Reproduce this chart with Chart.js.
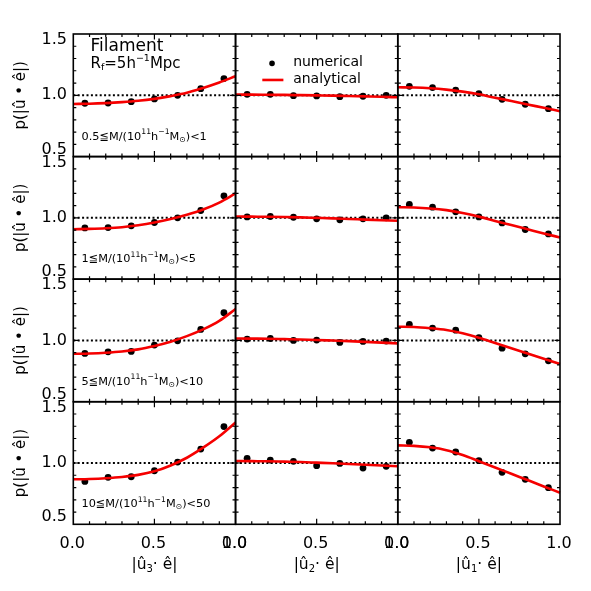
<!DOCTYPE html>
<html><head><meta charset="utf-8">
<script src="https://cdn.jsdelivr.net/npm/chart.js@4/dist/chart.umd.min.js"></script>
<style>html,body{margin:0;padding:0;background:#fff;}#wrap{position:relative;width:591px;height:591px;}canvas{display:block}</style>
</head><body><div id="wrap"><canvas id="c" width="591" height="591"></canvas></div>
<script>
// ---- data ----
const binX = [0.0714, 0.2143, 0.3571, 0.5, 0.6429, 0.7857, 0.9286];
const curveX = [0, 0.1, 0.2, 0.3, 0.4, 0.5, 0.6, 0.7, 0.8, 0.9, 1.0];
const yTickVals = [0.5, 1.0, 1.5];
const yTickText = ['0.5', '1.0', '1.5'];
const xTickVals = [0.0, 0.5, 1.0];
const xTickText = ['0.0', '0.5', '1.0'];
const massLow = ['0.5', '1', '5', '10'];
const massHigh = ['1', '5', '10', '50'];
const colSub = ['3', '2', '1'];

// left column: |u3 . e|
const numU3 = [
  [0.935, 0.937, 0.948, 0.970, 1.000, 1.054, 1.136],
  [0.918, 0.921, 0.935, 0.962, 1.000, 1.060, 1.180],
  [0.894, 0.907, 0.910, 0.962, 0.997, 1.090, 1.226],
  [0.850, 0.883, 0.888, 0.937, 1.008, 1.114, 1.297]
];
const fitU3 = [
  [0.929, 0.931, 0.936, 0.944, 0.955, 0.971, 0.993, 1.020, 1.060, 1.105, 1.155],
  [0.907, 0.910, 0.915, 0.924, 0.940, 0.962, 0.990, 1.025, 1.068, 1.125, 1.199],
  [0.891, 0.894, 0.900, 0.910, 0.927, 0.955, 0.990, 1.035, 1.090, 1.160, 1.256],
  [0.867, 0.870, 0.876, 0.886, 0.903, 0.932, 0.980, 1.043, 1.125, 1.218, 1.330]
];
// middle column: |u2 . e|
const numU2 = [
  [1.008, 1.008, 0.997, 0.995, 0.989, 0.992, 1.000],
  [1.008, 1.011, 1.005, 0.992, 0.984, 0.992, 1.000],
  [1.011, 1.016, 1.000, 1.003, 0.984, 0.992, 0.995],
  [1.038, 1.024, 1.014, 0.978, 0.997, 0.959, 0.973]
];
const fitU2 = [
  [1.005, 1.005, 1.004, 1.003, 1.001, 0.999, 0.997, 0.994, 0.991, 0.988, 0.984],
  [1.011, 1.010, 1.009, 1.007, 1.004, 1.000, 0.996, 0.991, 0.986, 0.981, 0.976],
  [1.016, 1.015, 1.014, 1.011, 1.008, 1.004, 0.999, 0.994, 0.988, 0.982, 0.976],
  [1.016, 1.015, 1.014, 1.011, 1.008, 1.003, 0.998, 0.992, 0.986, 0.980, 0.973]
];
// right column: |u1 . e|
const numU1 = [
  [1.073, 1.063, 1.041, 1.014, 0.967, 0.927, 0.891],
  [1.109, 1.087, 1.049, 1.008, 0.959, 0.905, 0.869],
  [1.131, 1.101, 1.084, 1.022, 0.937, 0.891, 0.834],
  [1.169, 1.122, 1.090, 1.019, 0.924, 0.867, 0.799]
];
const fitU1 = [
  [1.065, 1.063, 1.057, 1.046, 1.030, 1.008, 0.980, 0.953, 0.925, 0.898, 0.870],
  [1.087, 1.085, 1.077, 1.063, 1.040, 1.010, 0.975, 0.941, 0.907, 0.873, 0.840],
  [1.112, 1.110, 1.100, 1.085, 1.058, 1.022, 0.979, 0.936, 0.893, 0.850, 0.807],
  [1.144, 1.140, 1.128, 1.105, 1.065, 1.015, 0.964, 0.912, 0.861, 0.809, 0.758]
];
const refLine = [1.0, 1.0];
const refX = [0, 1];

const numCols = [numU3, numU2, numU1];
const fitCols = [fitU3, fitU2, fitU1];
const RED = 'rgb(245,0,0)';

// ---- build datasets ----
const datasets = [];
for (let r = 0; r < 4; r++) {
  for (let c = 0; c < 3; c++) {
    const xa = 'x' + c, ya = 'y' + r;
    datasets.push({
      data: fitCols[c][r].map((v, i) => ({x: curveX[i], y: v})),
      xAxisID: xa, yAxisID: ya, showLine: true, pointRadius: 0,
      borderColor: RED, borderWidth: 2.6, cubicInterpolationMode: 'monotone',
      order: 0, clip: false
    });
    datasets.push({
      data: numCols[c][r].map((v, i) => ({x: binX[i], y: v})),
      xAxisID: xa, yAxisID: ya, showLine: false, pointRadius: 3.4,
      pointBackgroundColor: '#000', pointBorderWidth: 0, order: 1, clip: false
    });
    datasets.push({
      data: refLine.map((v, i) => ({x: refX[i], y: v})),
      xAxisID: xa, yAxisID: ya, showLine: true, pointRadius: 0,
      borderColor: '#000', borderWidth: 2, borderDash: [2, 2.4], order: 2, clip: false
    });
  }
}

const scales = {};
for (let c = 0; c < 3; c++) {
  scales['x' + c] = {type: 'linear', position: 'bottom', stack: 'xs', stackWeight: 1, weight: c,
    min: 0, max: 1, display: false};
}
for (let r = 0; r < 4; r++) {
  scales['y' + r] = {type: 'linear', position: 'left', stack: 'ys', stackWeight: 1, weight: 4 - r,
    min: 0.5, max: 1.5, display: false};
}

const FONT = '"DejaVu Sans", "Noto Sans", sans-serif';
function rich(ctx, parts, x, y, align) {
  ctx.save();
  let w = 0;
  parts.forEach(p => { ctx.font = p.s + 'px ' + FONT; w += ctx.measureText(p.t).width; });
  let cx = align === 'center' ? x - w / 2 : x;
  ctx.textAlign = 'left'; ctx.textBaseline = 'middle';
  parts.forEach(p => { ctx.font = p.s + 'px ' + FONT; ctx.fillText(p.t, cx, y + (p.dy || 0)); cx += ctx.measureText(p.t).width; });
  ctx.restore();
}
function label(ctx, t, x, y, size, align) {
  ctx.font = size + 'px ' + FONT;
  ctx.textAlign = align; ctx.textBaseline = 'middle';
  ctx.fillText(t, x, y);
}

const decor = {
  id: 'decor',
  afterDatasetsDraw(chart) {
    const ctx = chart.ctx;
    ctx.save();
    ctx.fillStyle = '#000'; ctx.strokeStyle = '#000';
    const xs = [0, 1, 2].map(c => chart.scales['x' + c]);
    const ys = [0, 1, 2, 3].map(r => chart.scales['y' + r]);
    // frames and ticks
    for (let r = 0; r < 4; r++) {
      for (let c = 0; c < 3; c++) {
        const X = xs[c], Y = ys[r];
        const L = X.getPixelForValue(0), R = X.getPixelForValue(1);
        const T = Y.getPixelForValue(1.5), B = Y.getPixelForValue(0.5);
        ctx.lineWidth = 1.6;
        ctx.strokeRect(L, T, R - L, B - T);
        ctx.lineWidth = 1.2;
        ctx.beginPath();
        for (let k = 1; k < 10; k++) {
          const v = k / 10;
          const len = (k === 5) ? 5.5 : 3;
          const px = X.getPixelForValue(v);
          ctx.moveTo(px, B); ctx.lineTo(px, B - len);
          ctx.moveTo(px, T); ctx.lineTo(px, T + len);
          const py = Y.getPixelForValue(0.5 + v);
          ctx.moveTo(L, py); ctx.lineTo(L + len, py);
          ctx.moveTo(R, py); ctx.lineTo(R - len, py);
        }
        ctx.stroke();
      }
    }
    // y tick labels, titles, mass labels
    const shift = [-7, 0, 6];
    for (let r = 0; r < 4; r++) {
      const Y = ys[r];
      yTickVals.forEach((v, i) => label(ctx, yTickText[i], 67, Y.getPixelForValue(v) + shift[i], 16, 'right'));
      ctx.save();
      ctx.translate(21, Y.getPixelForValue(1.0));
      ctx.rotate(-Math.PI / 2);
      label(ctx, 'p(|û • ê|)', 0, 0, 15, 'center');
      ctx.restore();
      const B = Y.getPixelForValue(0.5);
      rich(ctx, [
        {t: massLow[r] + '≦M/(10', s: 11.3},
        {t: '11', s: 7.7, dy: -4.5},
        {t: 'h', s: 11.3},
        {t: '−1', s: 7.7, dy: -4.5},
        {t: 'M', s: 11.3},
        {t: '⊙', s: 7.7, dy: 3},
        {t: ')<' + massHigh[r], s: 11.3}
      ], 81.5, B - 20, 'left');
    }
    // x tick labels and titles
    const Bot = ys[3].getPixelForValue(0.5);
    for (let c = 0; c < 3; c++) {
      const X = xs[c];
      xTickVals.forEach((v, i) => label(ctx, xTickText[i], X.getPixelForValue(v) - 1, Bot + 20, 16, 'center'));
      rich(ctx, [
        {t: '|û', s: 15.5},
        {t: colSub[c], s: 10, dy: 4},
        {t: '· ê|', s: 15.5}
      ], X.getPixelForValue(0.5), Bot + 41, 'center');
    }
    // panel texts
    const X0 = xs[0], Y0 = ys[0];
    label(ctx, 'Filament', X0.getPixelForValue(0.106), Y0.getPixelForValue(1.396), 17, 'left');
    rich(ctx, [
      {t: 'R', s: 15},
      {t: 'f', s: 9.5, dy: 4},
      {t: '=5h', s: 15},
      {t: '−1', s: 9.5, dy: -5},
      {t: 'Mpc', s: 15}
    ], X0.getPixelForValue(0.106), Y0.getPixelForValue(1.255), 'left');
    // legend
    const X1 = xs[1];
    const ly1 = Y0.getPixelForValue(1.26), ly2 = Y0.getPixelForValue(1.125);
    ctx.beginPath(); ctx.arc(X1.getPixelForValue(0.225), ly1, 2.8, 0, Math.PI * 2); ctx.fill();
    ctx.strokeStyle = RED; ctx.lineWidth = 2.6;
    ctx.beginPath(); ctx.moveTo(X1.getPixelForValue(0.165), ly2); ctx.lineTo(X1.getPixelForValue(0.295), ly2); ctx.stroke();
    label(ctx, 'numerical', X1.getPixelForValue(0.355), ly1 - 1, 14, 'left');
    label(ctx, 'analytical', X1.getPixelForValue(0.355), ly2 - 1, 14, 'left');
    ctx.restore();
  }
};

new Chart(document.getElementById('c'), {
  type: 'scatter',
  data: {datasets},
  options: {
    responsive: false, animation: false, devicePixelRatio: 1,
    layout: {padding: {left: 73.3, top: 34, right: 31, bottom: 66.7}},
    scales,
    plugins: {legend: {display: false}, tooltip: {enabled: false}}
  },
  plugins: [decor]
});
</script></body></html>
